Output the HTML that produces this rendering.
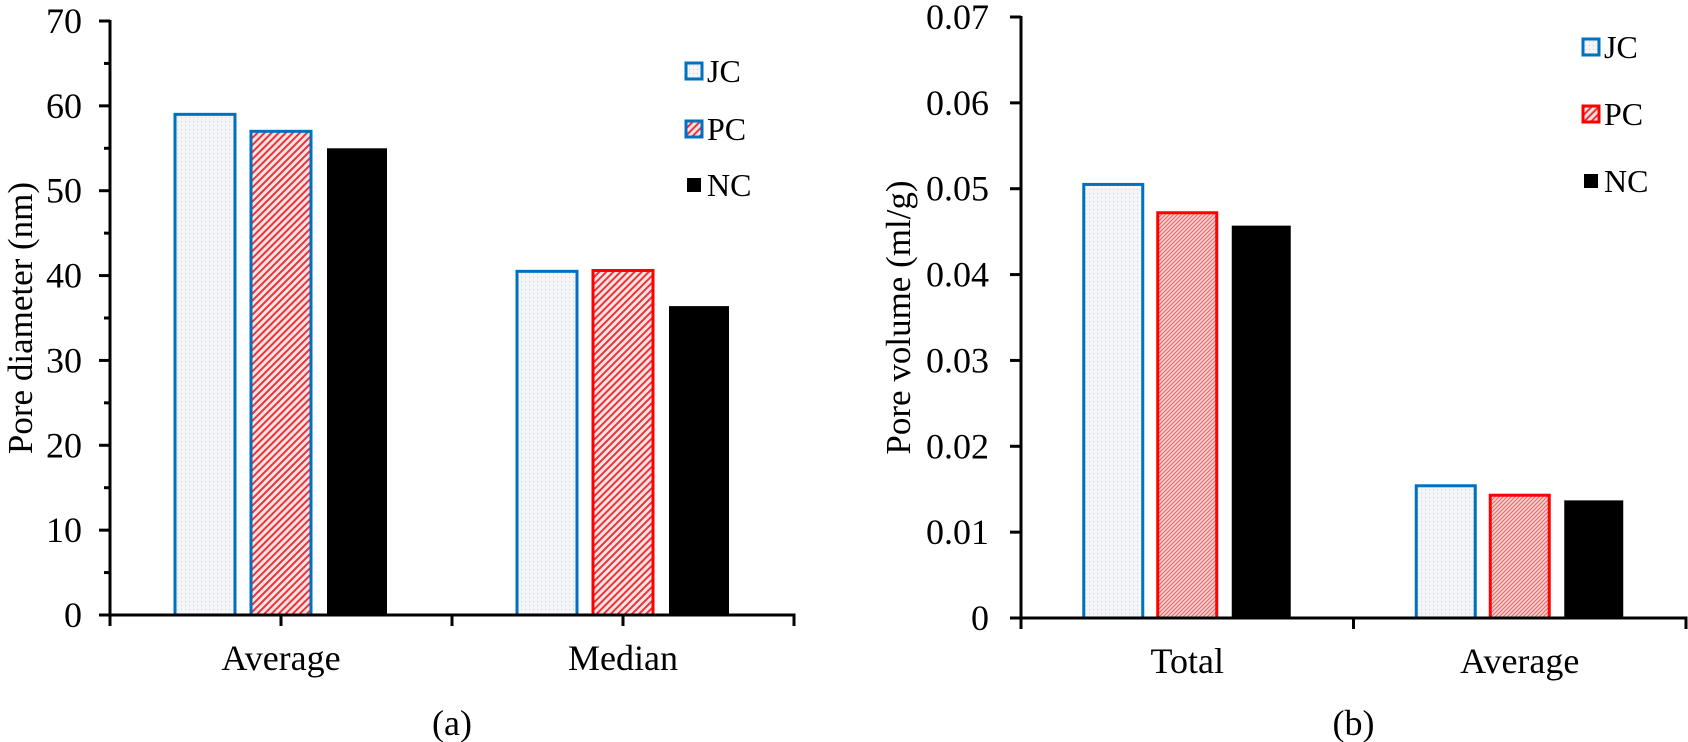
<!DOCTYPE html>
<html><head><meta charset="utf-8"><style>
html,body{margin:0;padding:0;background:#fff}
svg{display:block}
text{font-family:"Liberation Serif",serif;fill:#000}
</style></head><body>
<svg id="c" width="1688" height="742" viewBox="0 0 1688 742" xmlns="http://www.w3.org/2000/svg">
<defs>
<pattern id="dots" width="4" height="4" patternUnits="userSpaceOnUse"><rect width="4" height="4" fill="#f3f5f9"/><rect x="1" y="1" width="1" height="1" fill="#c9d2de"/></pattern>
<pattern id="stripes" width="5" height="5" patternUnits="userSpaceOnUse" patternTransform="rotate(45)"><rect width="5" height="5" fill="#fbe3e3"/><rect width="2" height="5" fill="#e8353a"/></pattern>
<pattern id="hatch" width="4" height="4" patternUnits="userSpaceOnUse"><rect width="4" height="4" fill="#f7d4d4"/><path d="M0,4 L4,0" stroke="#e06666" stroke-width="1"/><path d="M0,0 L4,4" stroke="#f0a0a0" stroke-width="0.6"/></pattern>
</defs>
</svg>
<script>
// Chart (a)
const catsA = ["Average","Median"];
const jcA = [59, 40.5];
const pcA = [57, 40.6];
const ncA = [55, 36.4];
const ticksA = [0,10,20,30,40,50,60,70];
// Chart (b)
const catsB = ["Total","Average"];
const jcB = [0.0505, 0.0154];
const pcB = [0.0472, 0.0143];
const ncB = [0.0457, 0.0137];
const ticksB = ["0","0.01","0.02","0.03","0.04","0.05","0.06","0.07"];
const seriesNames = ["JC","PC","NC"];

const svg = document.getElementById('c');
const NS = 'http://www.w3.org/2000/svg';
function mk(tag, attrs, txt){
  const e = document.createElementNS(NS, tag);
  for (const k in attrs) e.setAttribute(k, attrs[k]);
  if (txt !== undefined) e.textContent = txt;
  svg.appendChild(e);
  return e;
}

function drawChart(o){
  const yScale = v => o.y0 - (v / o.ymax) * (o.y0 - o.yTop);
  const catW = (o.x1 - o.x0) / o.cats.length;
  const xCenter = i => o.x0 + catW * (i + 0.5);
  o.series.forEach((s, si) => {
    s.vals.forEach((v, ci) => {
      const cx = xCenter(ci) + (si - 1) * o.step;
      const y = yScale(v);
      const stroke = s.strokes[ci];
      const r = mk('rect', {x: cx - o.bw/2, y: y, width: o.bw, height: o.y0 - y, fill: s.fill, stroke: stroke, 'stroke-width': stroke === 'none' ? 0 : 3});
      
      
    });
  });
  const ya = mk('line', {x1: o.x0, y1: o.yTop - 1, x2: o.x0, y2: o.y0 + 1.5, stroke: '#000', 'stroke-width': 3});
  
  
  o.ticks.forEach((t, i) => {
    const v = o.ymax * i / (o.ticks.length - 1);
    const y = yScale(v);
    mk('line', {x1: o.x0 - 11, y1: y, x2: o.x0, y2: y, stroke: '#000', 'stroke-width': 3});
    if (o.minor && i < o.ticks.length - 1) {
      const ym = yScale(v + o.ymax / (o.ticks.length - 1) / 2);
      mk('line', {x1: o.x0 - 6, y1: ym, x2: o.x0, y2: ym, stroke: '#000', 'stroke-width': 3});
    }
    const tl = mk('text', {x: o.labelRight, y: y + 12, 'text-anchor': 'end', 'font-size': 36}, String(t));
    
    
  });
  const xa = mk('line', {x1: o.x0 - 1.5, y1: o.y0, x2: o.x1 + 1.5, y2: o.y0, stroke: '#000', 'stroke-width': 3});
  
  
  const nt = o.centerTicks ? o.cats.length * 2 : o.cats.length;
  for (let i = 0; i <= nt; i++) {
    const x = o.x0 + (o.x1 - o.x0) * i / nt;
    mk('line', {x1: x, y1: o.y0, x2: x, y2: o.y0 + 11, stroke: '#000', 'stroke-width': 3});
  }
  o.cats.forEach((c, ci) => {
    const cl = mk('text', {x: xCenter(ci), y: o.y0 + 55, 'text-anchor': 'middle', 'font-size': 36}, c);
    
    
  });
  const tt = mk('text', {x: 0, y: 0, 'text-anchor': 'middle', 'font-size': 35, transform: 'translate(' + o.titleX + ',' + ((o.yTop + o.y0) / 2) + ') rotate(-90)'}, o.title);
  
  
  const pl = mk('text', {x: (o.x0 + o.x1) / 2, y: 735, 'text-anchor': 'middle', 'font-size': 36}, o.panel);
  
  
  o.legend.forEach((L, i) => {
    const sz = L.small ? 14 : 16;
    const r = mk('rect', {x: o.legX + (16 - sz) / 2, y: L.y - sz / 2, width: sz, height: sz, fill: L.fill, stroke: L.stroke, 'stroke-width': L.stroke === 'none' ? 0 : 3});
    
    
    const t = mk('text', {x: o.legX + 21, y: L.y + 11, 'font-size': 32}, seriesNames[i]);
    
    
  });
}

drawChart({
  id: 'a', cats: catsA, x0: 110, x1: 794, y0: 615, yTop: 21, ymax: 70, bw: 60, step: 76,
  ticks: ticksA, minor: true, labelRight: 82, centerTicks: true,
  title: 'Pore diameter (nm)', titleX: 32, panel: '(a)',
  series: [
    {name: 'JC', vals: jcA, fill: 'url(#dots)', strokes: ['#0070C0', '#0070C0']},
    {name: 'PC', vals: pcA, fill: 'url(#stripes)', strokes: ['#0070C0', '#FF0000']},
    {name: 'NC', vals: ncA, fill: '#000', strokes: ['none', 'none']}
  ],
  legX: 686,
  legend: [
    {y: 71, fill: 'url(#dots)', stroke: '#0070C0'},
    {y: 129, fill: 'url(#stripes)', stroke: '#0070C0'},
    {y: 185, fill: '#000', stroke: 'none', small: true}
  ]
});

drawChart({
  id: 'b', cats: catsB, x0: 1021, x1: 1686, y0: 618, yTop: 17, ymax: 0.07, bw: 59, step: 74,
  ticks: ticksB, minor: false, labelRight: 989, centerTicks: false,
  title: 'Pore volume (ml/g)', titleX: 910, panel: '(b)',
  series: [
    {name: 'JC', vals: jcB, fill: 'url(#dots)', strokes: ['#0070C0', '#0070C0']},
    {name: 'PC', vals: pcB, fill: 'url(#hatch)', strokes: ['#FF0000', '#FF0000']},
    {name: 'NC', vals: ncB, fill: '#000', strokes: ['none', 'none']}
  ],
  legX: 1583,
  legend: [
    {y: 47, fill: 'url(#dots)', stroke: '#0070C0'},
    {y: 114, fill: 'url(#stripes)', stroke: '#FF0000'},
    {y: 181, fill: '#000', stroke: 'none', small: true}
  ]
});
</script>
</body></html>
